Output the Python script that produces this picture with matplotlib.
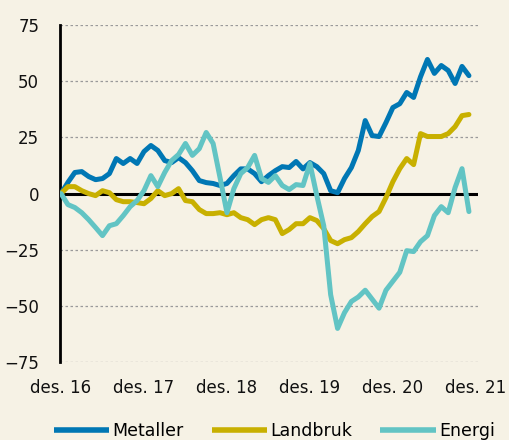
import matplotlib
matplotlib.use("Agg")
import matplotlib.pyplot as plt
import numpy as np

# Monthly index values, des. 2016 = 0
months = list(range(60))
tick_pos = [0, 12, 24, 36, 48, 60]
tick_labels = ["des. 16", "des. 17", "des. 18", "des. 19", "des. 20", "des. 21"]
y_ticks = [75, 50, 25, 0, -25, -50, -75]

metaller = [0, 5, 9.4, 9.8, 7.6, 6.2, 6.7, 8.9, 15.6, 13.4, 15.6, 13.4, 18.7, 21.4, 19.2,
            14.7, 13.8, 16, 13.8, 10.2, 5.8, 4.9, 4.5, 3.6, 4.5, 8, 11, 11, 8.9, 5.3,
            8, 10.2, 12, 11.6, 14.3, 11, 13.8, 12, 8.9, 1.3, 0.4, 6.7, 11.6, 19.2, 32.5,
            25.8, 25.4, 31.6, 38.3, 40, 45, 42.8, 52, 59.7, 53.5, 57, 54.8, 49, 56.6, 52.5]
landbruk = [0, 3.1, 3.1, 1.3, 0, -0.9, 1.3, 0.4, -2.7, -3.6, -3.6, -4, -4.5, -2.2, 1.3,
            -0.9, 0, 2.2, -3.1, -3.6, -7.1, -8.9, -8.9, -8.5, -9.4, -8.5, -10.7, -11.6, -13.8, -11.6,
            -10.7, -11.6, -17.8, -16, -13.4, -13.4, -10.7, -12, -15.6, -20.9, -22.3, -20.5, -19.6, -16.9, -13.4,
            -10.2, -8, -1.8, 5.3, 11.1, 15.6, 12.9, 26.7, 25.4, 25.4, 25.4, 26.7, 29.8, 34.7, 35.2]
energi = [0, -4.9, -6.2, -8.5, -11.6, -15.1, -18.7, -14.3, -13.4, -9.8, -5.8, -3.1, 1.3, 8, 3.1,
          9.4, 14.7, 17.4, 22.3, 17, 20, 27.2, 22.3, 7.1, -8.5, 2.2, 8.9, 11.6, 17, 6.7,
          5, 8, 3.6, 1.8, 4, 3.6, 13.4, -0.9, -14.3, -45, -60, -53, -48, -46, -43,
          -47, -51, -43, -39, -35, -25.4, -25.8, -21.4, -18.7, -9.8, -5.8, -8.5, 2.7, 11.1, -8]

bg = "#F6F2E5"
c_met = "#0077B4"
c_land = "#C8B000"
c_en = "#62C4C4"

plt.rcParams['font.family'] = ['DejaVu Sans']

fig = plt.figure(figsize=(5.1, 4.4), dpi=100, facecolor=bg)
ax = fig.add_axes([0.1176, 0.177, 0.8195, 0.766], facecolor=bg)

for v in y_ticks:
    if v != 0:
        ax.axhline(v, color="#9a9a9a", lw=0.9, ls=(0, (2, 2)), zorder=1)
ax.axhline(0, color="black", lw=2.2, zorder=2)

kw = dict(lw=3.6, solid_capstyle="round", solid_joinstyle="round", zorder=3)
ax.plot(months, metaller, color=c_met, label="Metaller", **kw)
ax.plot(months, landbruk, color=c_land, label="Landbruk", **kw)
ax.plot(months, energi, color=c_en, label="Energi", **kw)

ax.set_xlim(-0.15, 60.3)
ax.set_ylim(-75, 75)
ax.set_xticks(tick_pos)
ax.set_xticklabels(tick_labels)
ax.set_yticks(y_ticks)
ax.tick_params(axis="both", length=0, labelsize=12, colors="#111111")
ax.tick_params(axis="x", pad=12)
ax.tick_params(axis="y", pad=15)
for s in ["top", "right", "bottom"]:
    ax.spines[s].set_visible(False)
ax.spines["left"].set_linewidth(2)
ax.spines["left"].set_color("black")

leg = fig.legend(loc="lower center", bbox_to_anchor=(0.538, -0.035), ncol=3, frameon=False,
                 fontsize=12.5, handlelength=3.2, handletextpad=0.2, columnspacing=1.6)
for h in leg.legend_handles:
    h.set_linewidth(4)
    h.set_solid_capstyle("butt")

fig.savefig("out.png", dpi=100, facecolor=bg)
